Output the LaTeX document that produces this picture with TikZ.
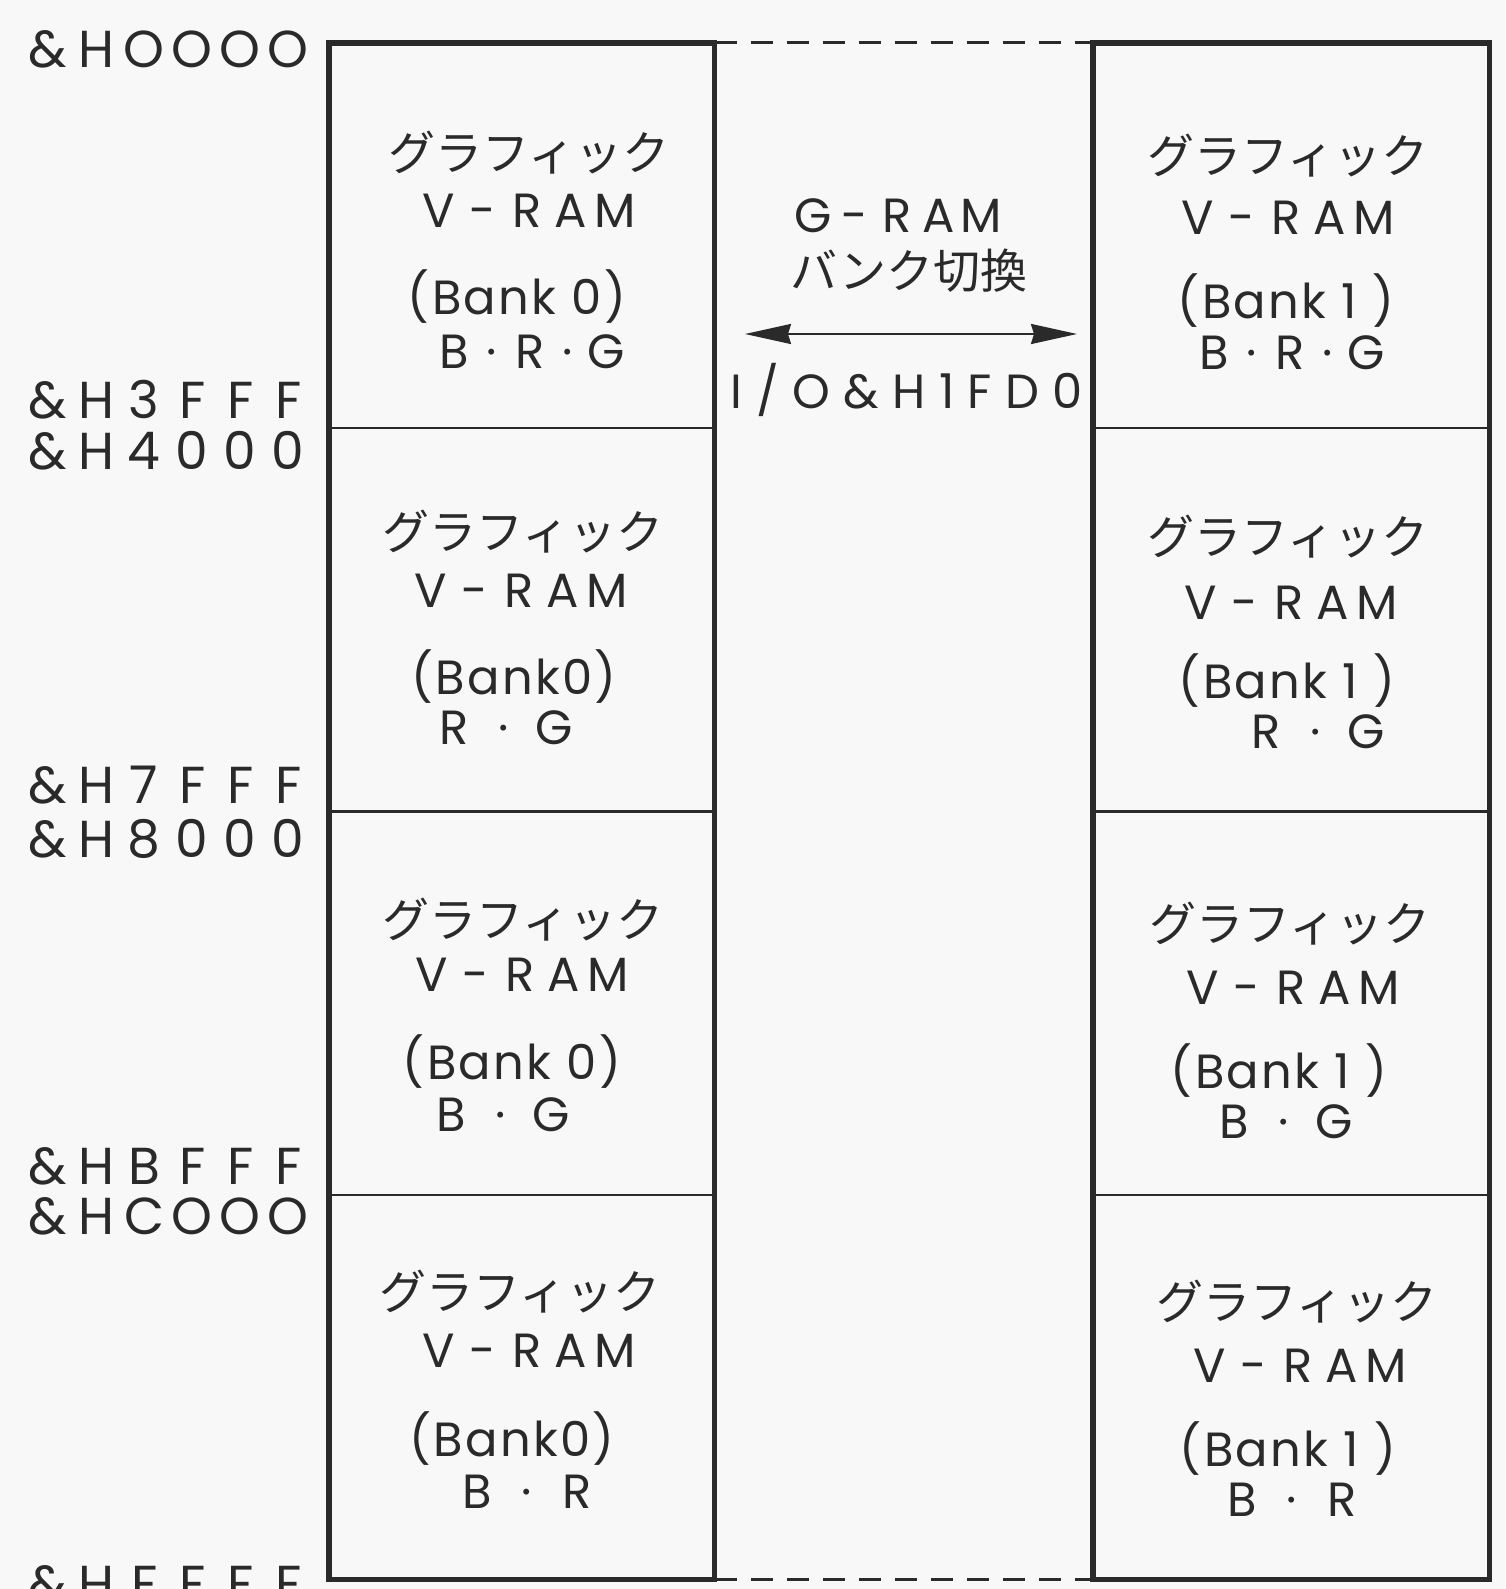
\documentclass[tikz,border=0pt]{standalone}
\usepackage{fontspec}
\setmainfont{Poppins}[LetterSpace=5]
\newfontfamily\pop{Poppins}
\newfontfamily\popw{Poppins}[LetterSpace=28]
\newfontfamily\jp{Noto Sans CJK JP}
\usetikzlibrary{arrows.meta}
\definecolor{ink}{HTML}{2A2A2A}
\definecolor{paper}{HTML}{F8F8F8}
\makeatletter
\newlength\mwp
\newcommand\mw[2]{\begingroup\setlength\mwp{#1}\mw@#2\@nil\endgroup}
\def\mw@#1{\ifx\@nil#1\else\makebox[\mwp]{#1}\expandafter\mw@\fi}
\makeatother
\begin{document}
\begin{tikzpicture}[x=1pt,y=-1pt,
  cell/.style={draw=ink,line width=2.5pt,minimum height=383.5pt,inner sep=0pt,anchor=north west},
  lcell/.style={cell,minimum width=383pt},
  rcell/.style={cell,minimum width=394pt},
  frame/.style={draw=ink,line width=5.5pt},
  dashline/.style={draw=ink,line width=3pt,dash pattern=on 22pt off 14pt},
  jtxt/.style={text=ink,font=\jp\fontsize{47}{47}\selectfont,inner sep=0pt,text height=37pt,text depth=3pt},
  ltxt/.style={text=ink,font=\fontsize{48}{48}\selectfont,inner sep=0pt},
  mtxt/.style={text=ink,font=\pop\fontsize{48}{48}\selectfont,inner sep=0pt},
  wtxt/.style={text=ink,font=\popw\fontsize{48}{48}\selectfont,inner sep=0pt},
  addr/.style={text=ink,font=\pop\fontsize{52}{52}\selectfont,inner sep=0pt,anchor=west},
  tip/.style={ink,line width=2pt,{Stealth[length=46pt,width=20pt,inset=3pt]}-{Stealth[length=46pt,width=20pt,inset=3pt]}},
]
\clip (0,0) rectangle (1505,1589);
\fill[paper] (0,0) rectangle (1505,1589);

% memory cells
\node[lcell] (L1) at (329,43) {};
\node[lcell] (L2) at (329,426.5) {};
\node[lcell] (L3) at (329,810) {};
\node[lcell] (L4) at (329,1193.5) {};
\node[rcell] (R1) at (1093,43) {};
\node[rcell] (R2) at (1093,426.5) {};
\node[rcell] (R3) at (1093,810) {};
\node[rcell] (R4) at (1093,1193.5) {};
\draw[frame] (L1.north west) rectangle (L4.south east);
\draw[frame] (R1.north west) rectangle (R4.south east);
\draw[dashline] (L1.north east) -- (R1.north west);
\draw[dashline] (L4.south east) -- (R4.south west);

% addresses
\node[addr] (a0) at (24,49) {\mw{48pt}{\&HOOOO}};
\node[addr] (a1) at (24,400) {\mw{48pt}{\&H3FFF}};
\node[addr] (a2) at (24,451) {\mw{48pt}{\&H4000}};
\node[addr] (a3) at (24,785) {\mw{48pt}{\&H7FFF}};
\node[addr] (a4) at (24,839) {\mw{48pt}{\&H8000}};
\node[addr] (a5) at (24,1166) {\mw{48pt}{\&HBFFF}};
\node[addr] (a6) at (24,1216) {\mw{48pt}{\&HCOOO}};
\node[addr] (a7) at (24,1584) {\mw{48pt}{\&HFFFF}};

% left bank 0
\node[jtxt] (l1a) at (529,154) {グラフィック};
\node[mtxt] (l1b) at (527,211) {\mw{44pt}{V-RAM}};
\node[ltxt] (l1c) at (517,297) {(Bank 0)};
\node[mtxt] (l1d) at (530,352) {\mw{38pt}{B·R·G}};
\node[jtxt] (l2a) at (523,532) {グラフィック};
\node[mtxt] (l2b) at (519,591) {\mw{44pt}{V-RAM}};
\node[ltxt] (l2c) at (514,677) {(Bank0)};
\node[mtxt] (l2d) at (504,728) {\mw{25pt}{R{ }·{ }G}};
\node[jtxt] (l3a) at (523,920) {グラフィック};
\node[mtxt] (l3b) at (520,975) {\mw{44pt}{V-RAM}};
\node[ltxt] (l3c) at (512,1062) {(Bank 0)};
\node[mtxt] (l3d) at (501,1115) {\mw{25pt}{B{ }·{ }G}};
\node[jtxt] (l4a) at (520,1292) {グラフィック};
\node[mtxt] (l4b) at (527,1351) {\mw{44pt}{V-RAM}};
\node[ltxt] (l4c) at (512,1439) {(Bank0)};
\node[mtxt] (l4d) at (527,1492) {\mw{25pt}{B{ }·{ }R}};

% right bank 1
\node[jtxt] (r1a) at (1288,157) {グラフィック};
\node[mtxt] (r1b) at (1286,218) {\mw{44pt}{V-RAM}};
\node[ltxt] (r1c) at (1286,301) {(Bank 1 )};
\node[mtxt] (r1d) at (1290,353) {\mw{38pt}{B·R·G}};
\node[jtxt] (r2a) at (1288,537) {グラフィック};
\node[mtxt] (r2b) at (1289,603) {\mw{44pt}{V-RAM}};
\node[ltxt] (r2c) at (1287,681) {(Bank 1 )};
\node[mtxt] (r2d) at (1316,732) {\mw{25pt}{R{ }·{ }G}};
\node[jtxt] (r3a) at (1290,924) {グラフィック};
\node[mtxt] (r3b) at (1291,988) {\mw{44pt}{V-RAM}};
\node[ltxt] (r3c) at (1279,1071) {(Bank 1 )};
\node[mtxt] (r3d) at (1284,1122) {\mw{25pt}{B{ }·{ }G}};
\node[jtxt] (r4a) at (1297,1302) {グラフィック};
\node[mtxt] (r4b) at (1298,1366) {\mw{44pt}{V-RAM}};
\node[ltxt] (r4c) at (1288,1449) {(Bank 1 )};
\node[mtxt] (r4d) at (1292,1500) {\mw{25pt}{B{ }·{ }R}};

% bank switch
\node[mtxt] (m1) at (897,216) {\mw{42pt}{G-RAM}};
\node[jtxt] (m2) at (909,271) {バンク切換};
\node[wtxt] (m3) at (907,390) {I/O\&H1FD0};
\coordinate (aL) at (745,334);
\coordinate (aR) at (1077,334);
\draw[tip] (aL) -- (aR);
\end{tikzpicture}
\end{document}
